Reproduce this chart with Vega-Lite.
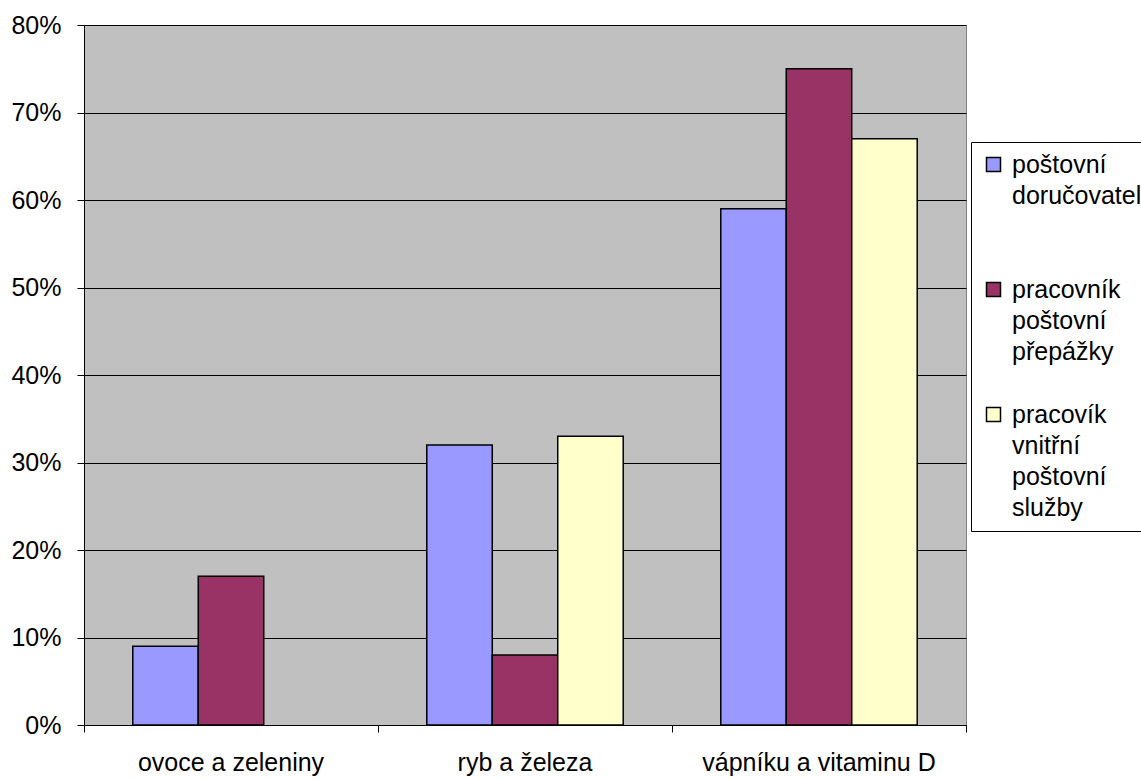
{
  "$schema": "https://vega.github.io/schema/vega-lite/v6.json",
  "width": 882,
  "height": 700,
  "autosize": {"type": "none"},
  "padding": {"left": 84, "top": 25, "right": 175, "bottom": 54},
  "background": "white",
  "config": {
    "font": "Liberation Sans",
    "view": {"fill": "#C0C0C0", "stroke": "#808080", "strokeWidth": 1},
    "style": {"guide-label": {"lineHeight": 31}}
  },
  "data": {
    "values": [
      {"zivina": "ovoce a zeleniny", "profese": "dorucovatel", "podil": 0.09},
      {"zivina": "ovoce a zeleniny", "profese": "prepazka", "podil": 0.17},
      {"zivina": "ryb a železa", "profese": "dorucovatel", "podil": 0.32},
      {"zivina": "ryb a železa", "profese": "prepazka", "podil": 0.08},
      {"zivina": "ryb a železa", "profese": "vnitrni", "podil": 0.33},
      {"zivina": "vápníku a vitaminu D", "profese": "dorucovatel", "podil": 0.59},
      {"zivina": "vápníku a vitaminu D", "profese": "prepazka", "podil": 0.75},
      {"zivina": "vápníku a vitaminu D", "profese": "vnitrni", "podil": 0.67}
    ]
  },
  "mark": {"type": "bar", "stroke": "black", "strokeWidth": 1.5},
  "encoding": {
    "x": {
      "field": "zivina",
      "type": "nominal",
      "sort": ["ovoce a zeleniny", "ryb a železa", "vápníku a vitaminu D"],
      "scale": {"paddingInner": 0, "paddingOuter": 0},
      "axis": {
        "title": null,
        "labelAngle": 0,
        "bandPosition": 1,
        "tickExtra": true,
        "labelFontSize": 25,
        "labelLimit": 400,
        "labelColor": "black",
        "domainColor": "black",
        "tickColor": "black",
        "tickSize": 7,
        "labelPadding": 18,
        "labelBaseline": "top",
        "grid": false
      }
    },
    "xOffset": {
      "field": "profese",
      "type": "nominal",
      "sort": ["dorucovatel", "prepazka", "vnitrni"],
      "scale": {"domain": ["dorucovatel", "prepazka", "vnitrni"], "paddingInner": 0, "paddingOuter": 0.745}
    },
    "y": {
      "field": "podil",
      "type": "quantitative",
      "scale": {"domain": [0, 0.8], "nice": false},
      "axis": {
        "title": null,
        "format": ".0%",
        "values": [0, 0.1, 0.2, 0.3, 0.4, 0.5, 0.6, 0.7, 0.8],
        "labelFontSize": 25,
        "labelColor": "black",
        "labelPadding": 16,
        "domainColor": "black",
        "tickColor": "black",
        "tickSize": 7,
        "grid": true,
        "gridColor": "black",
        "gridOpacity": 1,
        "gridWidth": 1
      }
    },
    "color": {
      "field": "profese",
      "type": "nominal",
      "scale": {
        "domain": ["dorucovatel", "prepazka", "vnitrni"],
        "range": ["#9999FF", "#993366", "#FFFFCC"]
      },
      "legend": {
        "title": null,
        "orient": "none",
        "legendX": 887,
        "legendY": 117,
        "direction": "vertical",
        "fillColor": "white",
        "strokeColor": "black",
        "padding": 10,
        "rowPadding": 6,
        "symbolType": "square",
        "symbolSize": 196,
        "symbolStrokeColor": "black",
        "symbolStrokeWidth": 1.5,
        "symbolOpacity": 1,
        "labelFontSize": 25,
        "labelColor": "black",
        "labelBaseline": "middle",
        "labelOffset": 6,
        "labelLimit": 300,
        "labelExpr": "datum.value === 'dorucovatel' ? ['poštovní', 'doručovatel', ' ', ' '] : datum.value === 'prepazka' ? ['pracovník', 'poštovní', 'přepážky', ' '] : ['pracovík', 'vnitřní', 'poštovní', 'služby']"
      }
    }
  }
}
